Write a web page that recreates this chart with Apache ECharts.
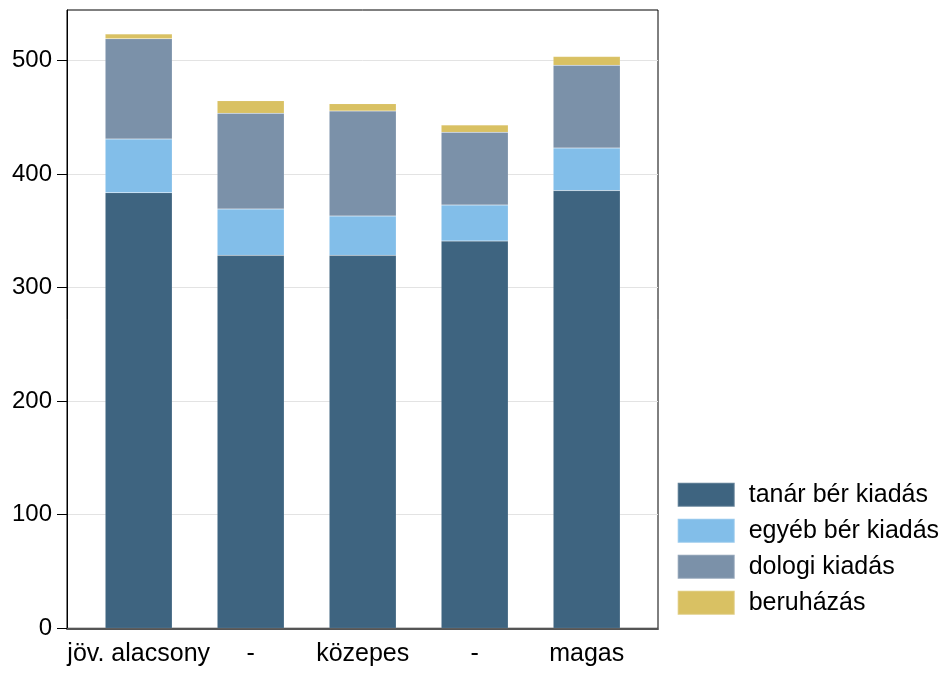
<!DOCTYPE html>
<html>
<head>
<meta charset="utf-8">
<script src="https://cdn.jsdelivr.net/npm/echarts@6/dist/echarts.min.js"></script>
<style>html,body{margin:0;padding:0;background:#fff}#c{width:944px;height:673px}</style>
</head>
<body>
<div id="c"></div>
<script>
const categories = ['jöv. alacsony', '-', 'közepes', '-', 'magas'];
const seriesNames = ['tanár bér kiadás', 'egyéb bér kiadás', 'dologi kiadás', 'beruházás'];
const tanar = [383.5, 328.3, 328.3, 340.9, 385.3];
const egyeb = [47.2, 40.8, 34.6, 31.7, 37.5];
const dologi = [88.3, 84.2, 92.5, 64.0, 72.8];
const beruhazas = [4.2, 11.1, 6.4, 6.4, 7.7];
const yTicks = [0, 100, 200, 300, 400, 500];
const colors = ['#3e6480', '#82bee9', '#7b91a9', '#d9c163'];
const Y_MAX = 544.3;

const FONT = 'Liberation Sans, Arial, sans-serif';
const chart = echarts.init(document.getElementById('c'), null, {renderer: 'canvas'});
const values = [tanar, egyeb, dologi, beruhazas];
chart.setOption({
  animation: false,
  backgroundColor: '#fff',
  textStyle: {fontFamily: FONT},
  grid: [
    {left: 67, right: 286, top: 10, bottom: 44.7, show: true, borderColor: '#000', borderWidth: 1, backgroundColor: 'transparent'},
    {left: 82.7, width: 560, top: 10, bottom: 44.7}
  ],
  legend: {
    orient: 'vertical', left: 676.7, top: 481.7, padding: 0,
    itemWidth: 57, itemHeight: 24, itemGap: 10, icon: 'rect',
    textStyle: {fontSize: 25, color: '#000', fontFamily: FONT, padding: [0, 0, 0, 9]},
    data: seriesNames
  },
  xAxis: [
    {gridIndex: 0, type: 'value', min: 0, max: 1,
     axisLine: {show: true, lineStyle: {color: '#555', width: 2}},
     axisTick: {show: false}, axisLabel: {show: false}, splitLine: {show: false}},
    {gridIndex: 1, type: 'category', data: categories,
     axisLine: {show: false}, axisTick: {show: false},
     axisLabel: {color: '#000', fontSize: 25, fontFamily: FONT, margin: 13, interval: 0}}
  ],
  yAxis: [
    {gridIndex: 0, type: 'value', min: 0, max: Y_MAX,
     axisLine: {show: true, lineStyle: {color: '#000', width: 1}},
     axisTick: {show: true, length: 10, lineStyle: {color: '#000'}, customValues: yTicks},
     axisLabel: {color: '#000', fontSize: 24, fontFamily: FONT, margin: 15, customValues: yTicks},
     splitLine: {show: true, lineStyle: {color: '#e3e3e3', width: 1}}},
    {gridIndex: 1, type: 'value', min: 0, max: Y_MAX, show: false, splitLine: {show: false}}
  ],
  series: seriesNames.map((name, i) => ({
    name: name, type: 'bar', stack: 'total', xAxisIndex: 1, yAxisIndex: 1,
    barWidth: 67, data: values[i],
    itemStyle: {color: colors[i], borderColor: 'rgba(255,255,255,0.2)', borderWidth: 0.5}
  }))
});
</script>
</body>
</html>
